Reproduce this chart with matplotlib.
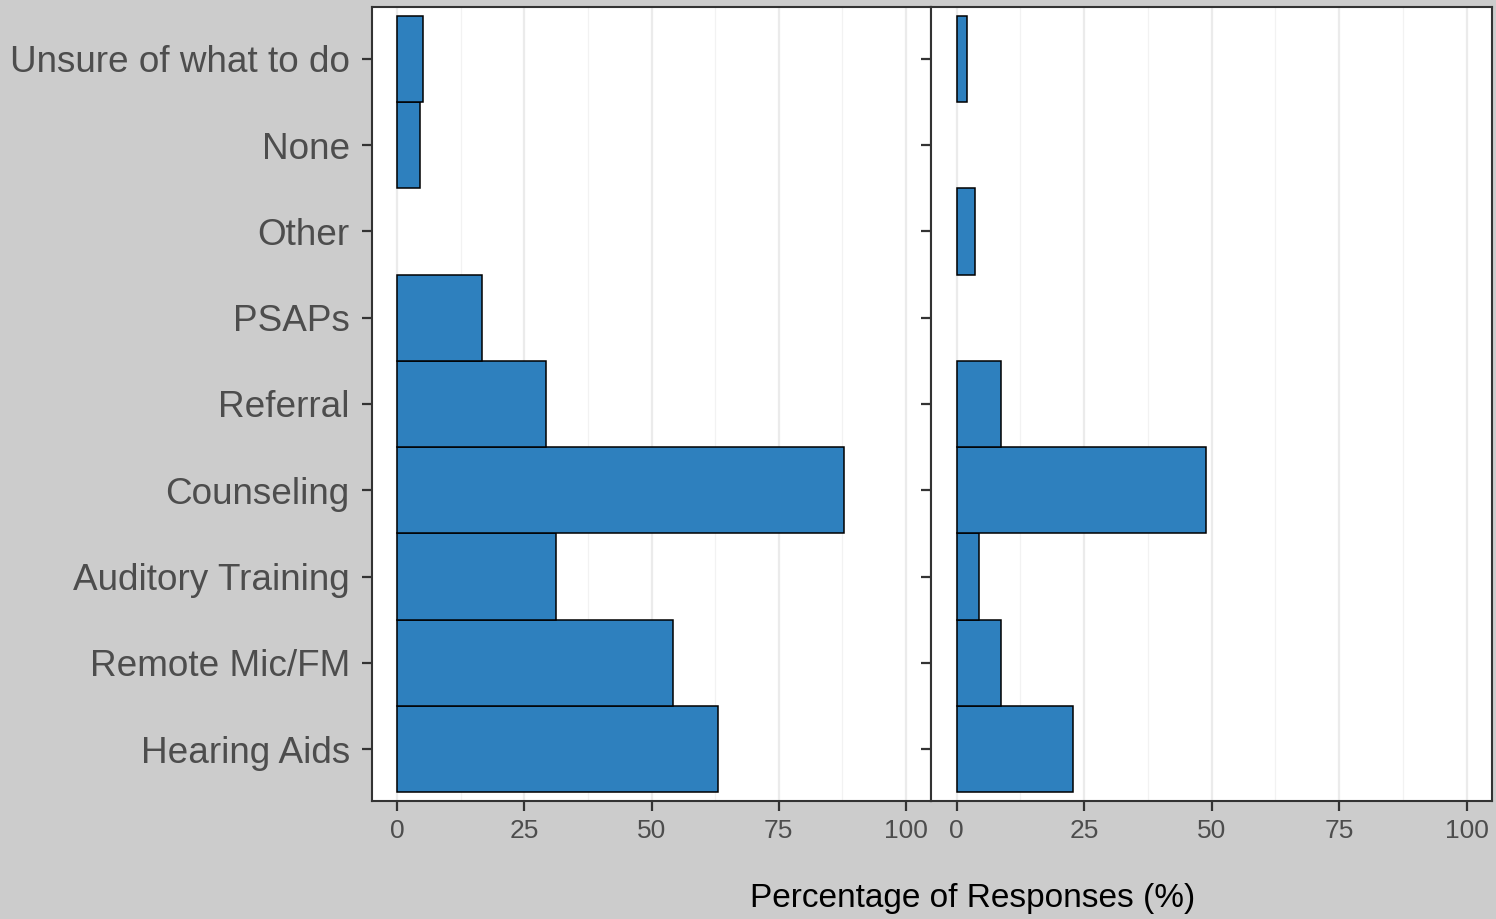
import matplotlib
matplotlib.use("Agg")
import matplotlib.pyplot as plt
import numpy as np

categories = ["Hearing Aids", "Remote Mic/FM", "Auditory Training", "Counseling",
              "Referral", "PSAPs", "Other", "None", "Unsure of what to do"]
left_values = [63.0, 54.2, 31.3, 87.9, 29.3, 16.6, 0.0, 4.4, 5.0]
right_values = [22.9, 8.8, 4.5, 49.0, 8.8, 0.0, 3.7, 0.0, 2.0]
x_ticks = [0, 25, 50, 75, 100]
x_label = "Percentage of Responses (%)"

plt.rcParams['font.family'] = ['Liberation Sans', 'DejaVu Sans']

W, H = 1496, 919
fig = plt.figure(figsize=(W / 100, H / 100), dpi=100)
fig.patch.set_facecolor('#cccccc')

top, bottom = 7, 801
ax1 = fig.add_axes([372 / W, (H - bottom) / H, (931 - 372) / W, (bottom - top) / H])
ax2 = fig.add_axes([931 / W, (H - bottom) / H, (1492 - 931) / W, (bottom - top) / H])

bar_color = '#2E80BE'
ypos = np.arange(len(categories))

for ax, vals in [(ax1, left_values), (ax2, right_values)]:
    ax.set_facecolor('white')
    for v in x_ticks:
        ax.axvline(v, color='#ebebeb', lw=1.6, zorder=0)
    for v in [12.5, 37.5, 62.5, 87.5]:
        ax.axvline(v, color='#f2f2f2', lw=0.9, zorder=0)
    for y, v in zip(ypos, vals):
        if v > 0:
            ax.barh(y, v, height=1.0, color=bar_color, edgecolor='black', linewidth=1.1, zorder=2)
    ax.set_xlim(-5, 105)
    ax.set_ylim(-0.6, len(categories) - 1 + 0.6)
    ax.set_xticks(x_ticks)
    ax.set_xticklabels([str(t) for t in x_ticks])
    ax.set_yticks(ypos)
    for s in ax.spines.values():
        s.set_color('#333333')
        s.set_linewidth(1.5)
    ax.tick_params(axis='both', colors='#333333', length=7, width=1.6,
                   labelcolor='#4d4d4d')
    ax.tick_params(axis='x', labelsize=19, pad=6)

ax1.set_yticklabels(categories)
ax1.tick_params(axis='y', labelsize=26.6, pad=9)
ax2.set_yticklabels([])

fig.text(973 / W, 1 - 898 / H, x_label, ha='center', va='center', fontsize=24, color='black')

fig.savefig('out.png', dpi=100, facecolor=fig.get_facecolor())
